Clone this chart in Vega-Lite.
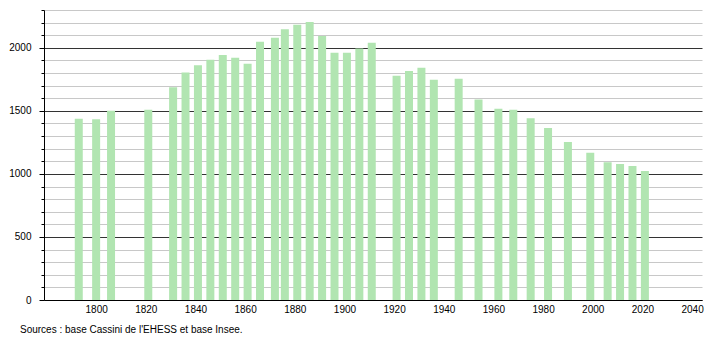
{
  "$schema": "https://vega.github.io/schema/vega-lite/v6.json",
  "width": 658,
  "height": 290,
  "autosize": {"type": "none"},
  "padding": {"left": 44, "top": 10, "right": 8, "bottom": 40},
  "background": "white",
  "config": {"view": {"stroke": null}, "font": "Liberation Sans"},
  "title": {
    "text": "Sources : base Cassini de l'EHESS et base Insee.",
    "orient": "bottom",
    "anchor": "start",
    "frame": "group",
    "dx": -24,
    "offset": 11,
    "fontSize": 10,
    "fontWeight": "normal",
    "font": "Liberation Sans",
    "color": "#000"
  },
  "data": {
    "values": [
      {"year": 1793, "pop": 1437},
      {"year": 1800, "pop": 1434},
      {"year": 1806, "pop": 1500},
      {"year": 1821, "pop": 1508},
      {"year": 1831, "pop": 1688},
      {"year": 1836, "pop": 1804},
      {"year": 1841, "pop": 1862},
      {"year": 1846, "pop": 1905},
      {"year": 1851, "pop": 1944},
      {"year": 1856, "pop": 1921},
      {"year": 1861, "pop": 1874},
      {"year": 1866, "pop": 2048},
      {"year": 1872, "pop": 2079},
      {"year": 1876, "pop": 2148},
      {"year": 1881, "pop": 2183},
      {"year": 1886, "pop": 2204},
      {"year": 1891, "pop": 2093},
      {"year": 1896, "pop": 1960},
      {"year": 1901, "pop": 1960},
      {"year": 1906, "pop": 1995},
      {"year": 1911, "pop": 2040},
      {"year": 1921, "pop": 1778},
      {"year": 1926, "pop": 1817},
      {"year": 1931, "pop": 1841},
      {"year": 1936, "pop": 1746},
      {"year": 1946, "pop": 1754},
      {"year": 1954, "pop": 1590},
      {"year": 1962, "pop": 1516},
      {"year": 1968, "pop": 1508},
      {"year": 1975, "pop": 1442},
      {"year": 1982, "pop": 1365},
      {"year": 1990, "pop": 1254},
      {"year": 1999, "pop": 1167},
      {"year": 2006, "pop": 1093},
      {"year": 2011, "pop": 1079},
      {"year": 2016, "pop": 1063},
      {"year": 2021, "pop": 1024}
    ]
  },
  "mark": {"type": "bar", "width": 8, "color": "#b1e5b1"},
  "encoding": {
    "x": {
      "field": "year",
      "type": "quantitative",
      "scale": {"domain": [1779, 2044], "nice": false, "zero": false, "padding": 0},
      "axis": {
        "title": null,
        "values": [1800, 1820, 1840, 1860, 1880, 1900, 1920, 1940, 1960, 1980, 2000, 2020, 2040],
        "format": "d",
        "ticks": false,
        "grid": false,
        "labelPadding": 4,
        "labelFontSize": 10,
        "labelColor": "#000",
        "labelFont": "Liberation Sans",
        "domainColor": "#000",
        "domainWidth": 1,
        "labelFlush": false
      }
    },
    "y": {
      "field": "pop",
      "type": "quantitative",
      "scale": {"domain": [0, 2300], "nice": false},
      "axis": {
        "title": null,
        "values": [0, 100, 200, 300, 400, 500, 600, 700, 800, 900, 1000, 1100, 1200, 1300, 1400, 1500, 1600, 1700, 1800, 1900, 2000, 2100, 2200, 2300],
        "format": "d",
        "labelExpr": "datum.value % 500 === 0 ? datum.label : ''",
        "grid": true,
        "gridColor": {"condition": {"test": "datum.value % 500 === 0", "value": "#333333"}, "value": "#c8c8c8"},
        "gridWidth": 1,
        "gridOpacity": 1,
        "ticks": true,
        "tickSize": {"condition": {"test": "datum.value % 500 === 0", "value": 5}, "value": 3},
        "tickColor": "#000",
        "labelPadding": 8,
        "labelFontSize": 10,
        "labelColor": "#000",
        "labelFont": "Liberation Sans",
        "labelFlush": false,
        "labelOverlap": false,
        "domainColor": "#000",
        "domainWidth": 1
      }
    }
  }
}
